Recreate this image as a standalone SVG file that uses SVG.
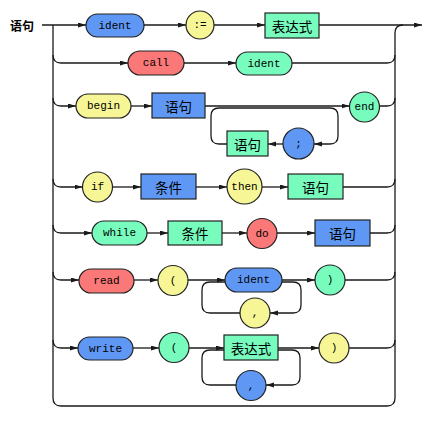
<svg xmlns="http://www.w3.org/2000/svg" width="430" height="427" viewBox="0 0 430 427">
  <style>
    .bg { fill: #ffffff; }
    .wire { fill: none; stroke: #1a1a1a; stroke-width: 1.3; }
    .arr { marker-end: url(#head); }
    .node { stroke: #222222; stroke-width: 1.2; }
    .blue { fill: #5f98f4; }
    .yellow { fill: #f6f696; }
    .green { fill: #78fcbe; }
    .red { fill: #fb7878; }
    .kw { font-family: "Liberation Mono", "DejaVu Sans Mono", monospace; font-size: 11px; fill: #000; text-anchor: middle; dominant-baseline: central; }
    .cj { font-family: "Noto Sans CJK SC", "Noto Sans", sans-serif; font-size: 13.5px; fill: #000; text-anchor: middle; dominant-baseline: central; }
    .title { font-family: "Noto Sans CJK SC", "Noto Sans", sans-serif; font-size: 12px; font-weight: bold; fill: #000; dominant-baseline: central; }
  </style>
  <defs>
    <marker id="head" markerUnits="userSpaceOnUse" markerWidth="9" markerHeight="6" refX="8" refY="2.5" orient="auto">
      <path d="M0,0 L8,2.5 L0,5 z" fill="#1a1a1a"/>
    </marker>
  </defs>
  <rect class="bg" x="0" y="0" width="430" height="427"/>

  <text class="title" x="10" y="25">语句</text>

  <g id="connectors">
    <!-- entry, trunks and exit -->
    <path class="wire arr" d="M42,25 H86"/>
    <path class="wire" d="M53,25 V398 Q53,406 61,406 H387 Q395,406 395,398 V33 Q395,25 403,25"/>
    <!-- row 1: ident := 表达式 -->
    <path class="wire arr" d="M144,25 H186"/>
    <path class="wire arr" d="M214,25 H265"/>
    <path class="wire arr" d="M319,25 H422"/>
    <!-- row 2: call ident -->
    <path class="wire arr" d="M53,55 Q53,63 61,63 H128"/>
    <path class="wire arr" d="M184,63 H236"/>
    <path class="wire" d="M292,63 H387 Q395,63 395,55"/>
    <!-- row 3: begin 语句 {; 语句} end -->
    <path class="wire arr" d="M53,98 Q53,106 61,106 H76"/>
    <path class="wire arr" d="M131,106 H152"/>
    <path class="wire arr" d="M205,106 H349.5"/>
    <path class="wire" d="M379.5,106 H387 Q395,106 395,98"/>
    <path class="wire arr" d="M330,108 Q338,108 338,116 V136 Q338,144 330,144 H314"/>
    <path class="wire arr" d="M283,144 H268"/>
    <path class="wire" d="M227,144 H219 Q211,144 211,136 V116 Q211,108 219,108 H330"/>
    <!-- row 4: if 条件 then 语句 -->
    <path class="wire arr" d="M53,179 Q53,187 61,187 H82.5"/>
    <path class="wire arr" d="M112.5,187 H141"/>
    <path class="wire arr" d="M196,187 H227"/>
    <path class="wire arr" d="M262,187 H288"/>
    <path class="wire" d="M343,187 H387 Q395,187 395,179"/>
    <!-- row 5: while 条件 do 语句 -->
    <path class="wire arr" d="M53,225 Q53,233 61,233 H92"/>
    <path class="wire arr" d="M147,233 H168"/>
    <path class="wire arr" d="M222,233 H247"/>
    <path class="wire arr" d="M277,233 H315"/>
    <path class="wire" d="M370,233 H387 Q395,233 395,225"/>
    <!-- row 6: read ( ident {, ident} ) -->
    <path class="wire arr" d="M53,272 Q53,280 61,280 H79"/>
    <path class="wire arr" d="M134,280 H158"/>
    <path class="wire arr" d="M188,280 H225"/>
    <path class="wire arr" d="M282,280 H315"/>
    <path class="wire" d="M345,280 H387 Q395,280 395,272"/>
    <path class="wire arr" d="M293,282 Q301,282 301,290 V305 Q301,313 293,313 H270"/>
    <path class="wire" d="M240,313 H210 Q202,313 202,305 V290 Q202,282 210,282 H293"/>
    <!-- row 7: write ( 表达式 {, 表达式} ) -->
    <path class="wire arr" d="M53,340 Q53,348 61,348 H78"/>
    <path class="wire arr" d="M133,348 H159"/>
    <path class="wire arr" d="M189,348 H224"/>
    <path class="wire arr" d="M278,348 H319"/>
    <path class="wire" d="M349,348 H387 Q395,348 395,340"/>
    <path class="wire arr" d="M292,350 Q300,350 300,358 V377 Q300,385 292,385 H266"/>
    <path class="wire" d="M236,385 H210 Q202,385 202,377 V358 Q202,350 210,350 H292"/>
  </g>

  <!-- row 1 -->
  <g id="ident1"><rect class="node blue" x="86" y="14" width="58" height="23" rx="11.5"/><text class="kw" x="115" y="25.5">ident</text></g>
  <g id="assign"><circle class="node yellow" cx="200" cy="25" r="14"/><text class="kw" x="200" y="25">:=</text></g>
  <g id="expr1"><rect class="node green" x="265" y="13" width="54" height="25"/><text class="cj" x="292" y="25.5">表达式</text></g>
  <!-- row 2 -->
  <g id="call"><rect class="node red" x="128" y="51" width="56" height="24" rx="12"/><text class="kw" x="156" y="63">call</text></g>
  <g id="ident2"><rect class="node green" x="236" y="52" width="56" height="23" rx="11.5"/><text class="kw" x="264" y="63.5">ident</text></g>
  <!-- row 3 -->
  <g id="begin"><rect class="node yellow" x="76" y="94" width="55" height="24" rx="12"/><text class="kw" x="103.5" y="106">begin</text></g>
  <g id="stmt1"><rect class="node blue" x="152" y="93" width="53" height="25"/><text class="cj" x="178.5" y="105.5">语句</text></g>
  <g id="end"><circle class="node green" cx="364.5" cy="107" r="15"/><text class="kw" x="364.5" y="107">end</text></g>
  <g id="stmt2"><rect class="node green" x="227" y="131" width="41" height="25"/><text class="cj" x="247.5" y="143.5">语句</text></g>
  <g id="semicolon"><circle class="node blue" cx="298.5" cy="143.5" r="15.5"/><text class="kw" x="298.5" y="143.5">;</text></g>
  <!-- row 4 -->
  <g id="if"><circle class="node yellow" cx="97.5" cy="187" r="15"/><text class="kw" x="97.5" y="187">if</text></g>
  <g id="cond1"><rect class="node blue" x="141" y="174" width="55" height="25"/><text class="cj" x="168.5" y="186.5">条件</text></g>
  <g id="then"><circle class="node yellow" cx="244.5" cy="186.5" r="17.5"/><text class="kw" x="244.5" y="186.5">then</text></g>
  <g id="stmt3"><rect class="node green" x="288" y="174" width="55" height="25"/><text class="cj" x="315.5" y="186.5">语句</text></g>
  <!-- row 5 -->
  <g id="while"><rect class="node green" x="92" y="221" width="55" height="24" rx="12"/><text class="kw" x="119.5" y="233">while</text></g>
  <g id="cond2"><rect class="node green" x="168" y="221" width="54" height="24"/><text class="cj" x="195" y="233">条件</text></g>
  <g id="do"><circle class="node red" cx="262" cy="233.5" r="15"/><text class="kw" x="262" y="233.5">do</text></g>
  <g id="stmt4"><rect class="node blue" x="315" y="220" width="55" height="26"/><text class="cj" x="342.5" y="233">语句</text></g>
  <!-- row 6 -->
  <g id="read"><rect class="node red" x="79" y="269" width="55" height="24" rx="12"/><text class="kw" x="106.5" y="281">read</text></g>
  <g id="lparen1"><circle class="node yellow" cx="173" cy="280.5" r="15"/><text class="kw" x="173" y="280.5">(</text></g>
  <g id="ident3"><rect class="node blue" x="225" y="268" width="57" height="24" rx="12"/><text class="kw" x="253.5" y="280">ident</text></g>
  <g id="rparen1"><circle class="node green" cx="330" cy="280" r="15"/><text class="kw" x="330" y="280">)</text></g>
  <g id="comma1"><circle class="node yellow" cx="255" cy="313" r="15"/><text class="kw" x="255" y="313">,</text></g>
  <!-- row 7 -->
  <g id="write"><rect class="node blue" x="78" y="337" width="55" height="23" rx="11.5"/><text class="kw" x="105.5" y="348.5">write</text></g>
  <g id="lparen2"><circle class="node green" cx="174" cy="347.5" r="15"/><text class="kw" x="174" y="347.5">(</text></g>
  <g id="expr2"><rect class="node green" x="224" y="335" width="54" height="25"/><text class="cj" x="251" y="347.5">表达式</text></g>
  <g id="rparen2"><circle class="node yellow" cx="334" cy="348" r="15"/><text class="kw" x="334" y="348">)</text></g>
  <g id="comma2"><circle class="node blue" cx="251" cy="385.5" r="15"/><text class="kw" x="251" y="385.5">,</text></g>
</svg>
